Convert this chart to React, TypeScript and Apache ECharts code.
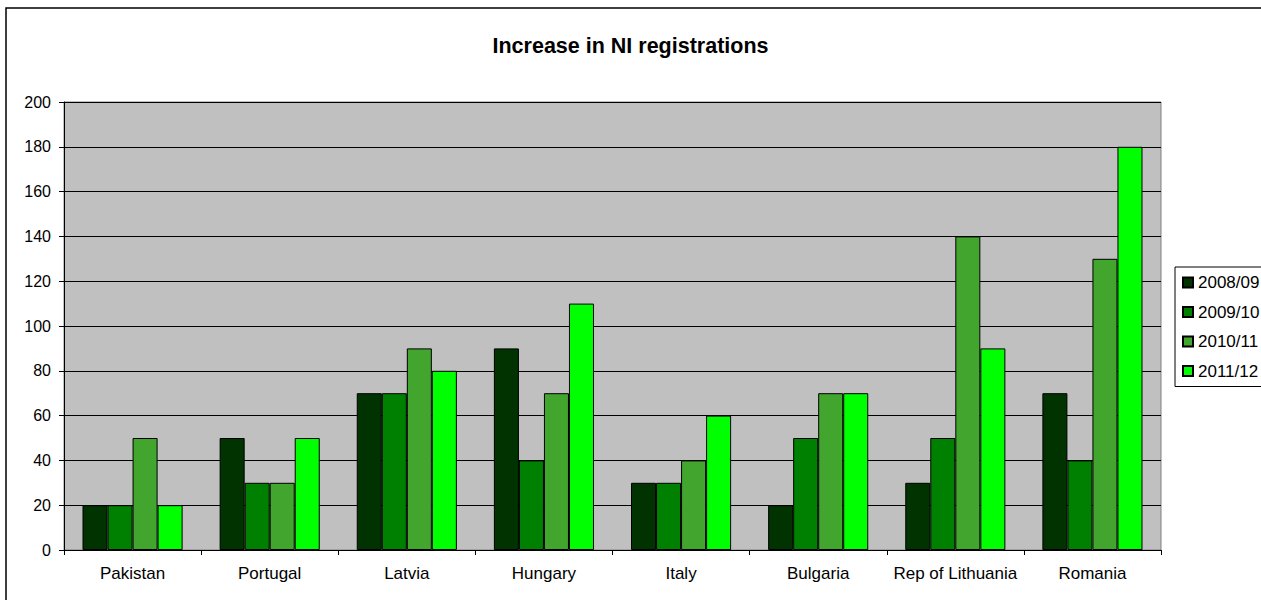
import React, { useEffect, useRef } from "react";
import * as echarts from "echarts";

const categories = ["Pakistan", "Portugal", "Latvia", "Hungary", "Italy", "Bulgaria", "Rep of Lithuania", "Romania"];
const seriesNames = ["2008/09", "2009/10", "2010/11", "2011/12"];
const s2008 = [20, 50, 70, 90, 30, 20, 30, 70];
const s2009 = [20, 30, 70, 40, 30, 50, 50, 40];
const s2010 = [50, 30, 90, 70, 40, 70, 140, 130];
const s2011 = [20, 50, 80, 110, 60, 70, 90, 180];
const colors = ["#003300", "#008000", "#42A52E", "#00FF00"];

export default function App() {
  const ref = useRef<HTMLDivElement>(null);
  useEffect(() => {
    if (!ref.current) return;
    const chart = echarts.init(ref.current, null, { renderer: "svg" });
    const data = [s2008, s2009, s2010, s2011];
    chart.setOption({
      animation: false,
      textStyle: { fontFamily: "Liberation Sans, Arial, sans-serif" },
      title: {
        text: "Increase in NI registrations",
        left: "center",
        top: 30,
        textStyle: { fontSize: 21.5, fontWeight: "bold", color: "#000", fontFamily: "Liberation Sans, Arial, sans-serif" },
      },
      graphic: [
        {
          type: "rect",
          shape: { x: 6, y: 8, width: 1400, height: 800 },
          style: { fill: "none", stroke: "#000", lineWidth: 1.5 },
          silent: true,
        },
      ],
      legend: {
        orient: "vertical",
        left: 1175,
        top: 267,
        padding: [7, 20, 7, 7],
        borderColor: "#000",
        borderWidth: 1,
        backgroundColor: "#fff",
        itemWidth: 10,
        itemHeight: 10,
        itemGap: 12.5,
        icon: "rect",
        textStyle: { fontSize: 17, lineHeight: 16, color: "#000", fontFamily: "Liberation Sans, Arial, sans-serif" },
        data: seriesNames,
      },
      grid: {
        left: 64,
        right: 100,
        top: 102,
        bottom: 50,
        show: true,
        backgroundColor: "#C0C0C0",
        borderColor: "#808080",
        borderWidth: 1,
      },
      xAxis: {
        type: "category",
        data: categories,
        boundaryGap: true,
        axisLine: { lineStyle: { color: "#000", width: 1 } },
        axisTick: { show: true, length: 5, lineStyle: { color: "#000" } },
        axisLabel: { fontSize: 17, color: "#000", margin: 15, interval: 0 },
      },
      yAxis: {
        type: "value",
        min: 0,
        max: 200,
        interval: 20,
        axisLine: { show: true, lineStyle: { color: "#000", width: 1 } },
        axisTick: { show: true, length: 5, lineStyle: { color: "#000" } },
        axisLabel: { fontSize: 16, color: "#000", margin: 13 },
        splitLine: { show: true, lineStyle: { color: "#000", width: 1 } },
      },
      series: seriesNames.map((name, i) => ({
        name,
        type: "bar",
        data: data[i],
        barGap: "0%",
        barCategoryGap: "27%",
        itemStyle: { color: colors[i], borderColor: "#000", borderWidth: 1 },
      })),
    });
    return () => chart.dispose();
  }, []);
  return (
    <div
      ref={ref}
      style={{ position: "fixed", left: 0, top: 0, width: 1261, height: 600, background: "#fff" }}
    />
  );
}
